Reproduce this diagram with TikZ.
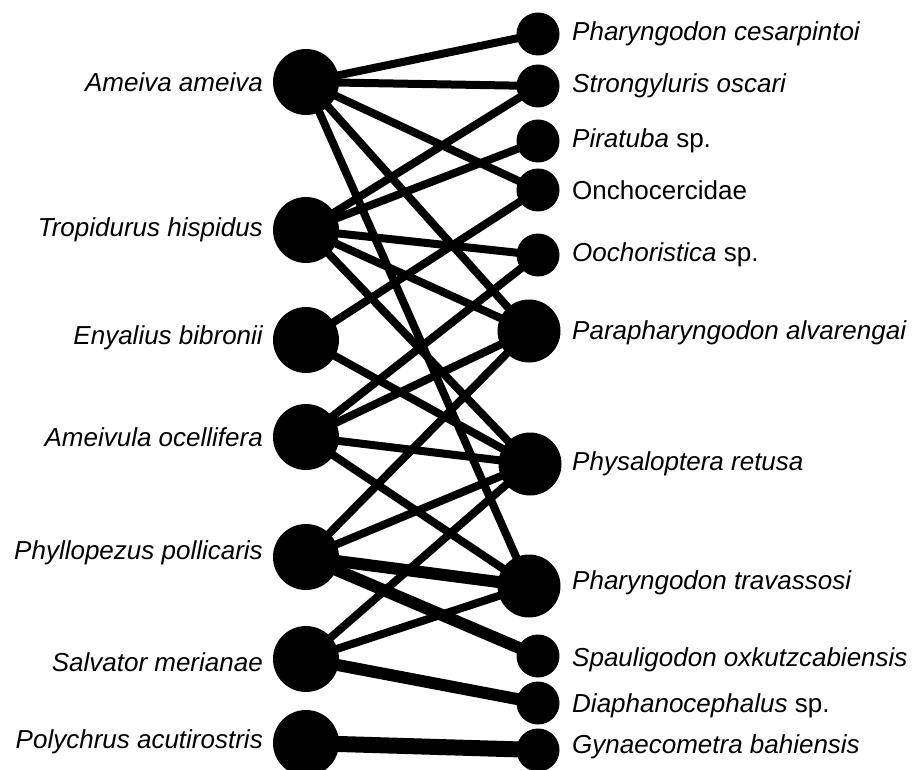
\documentclass[tikz,border=0pt]{standalone}
\usepackage{fontspec}
\setmainfont{Liberation Sans}
\pgfdeclarelayer{bg}
\pgfsetlayers{bg,main}
\begin{document}
\begin{tikzpicture}[x=1pt,y=-1pt,
  host/.style={circle,fill=black,minimum size=66pt,inner sep=0pt},
  para/.style={circle,fill=black,minimum size=43pt,inner sep=0pt},
  bigpara/.style={circle,fill=black,minimum size=63pt,inner sep=0pt},
  llab/.style={anchor=east,inner sep=0pt,font=\fontsize{26}{30}\selectfont\itshape},
  rlab/.style={anchor=west,inner sep=0pt,font=\fontsize{26}{30}\selectfont},
  link/.style={line width=8pt},
  linkb/.style={line width=12pt},
  linkc/.style={line width=16pt}]
\useasboundingbox (0,0) rectangle (915,770);
% hosts
\node[host] (aa) at (306,82) {};
\node[host] (th) at (306,230) {};
\node[host] (eb) at (306,340) {};
\node[host] (ao) at (306,437) {};
\node[host] (pp) at (306,557) {};
\node[host] (sm) at (306,659) {};
\node[host] (pa) at (306,743) {};
% parasites
\node[para] (pc) at (538,34) {};
\node[para] (so) at (538,86) {};
\node[para] (pi) at (538,141) {};
\node[para] (on) at (538,190) {};
\node[para] (oo) at (538,255) {};
\node[bigpara] (pv) at (529,331) {};
\node[bigpara] (pr) at (530,464) {};
\node[bigpara] (pt) at (529,586) {};
\node[para] (sp) at (538,656) {};
\node[para] (di) at (538,703) {};
\node[para] (gb) at (538,750) {};
% labels
\node[llab] (laa) at (263,82) {Ameiva ameiva};
\node[llab] (lth) at (263,230) {Tropidurus hispidus};
\node[llab] (leb) at (263,338) {Enyalius bibronii};
\node[llab] (lao) at (263,437) {Ameivula ocellifera};
\node[llab] (lpp) at (263,553) {Phyllopezus pollicaris};
\node[llab] (lsm) at (263,662) {Salvator merianae};
\node[llab] (lpa) at (263,742) {Polychrus acutirostris};
\node[rlab] (lpc) at (572,34) {\itshape Pharyngodon cesarpintoi};
\node[rlab] (lso) at (572,86) {\itshape Strongyluris oscari};
\node[rlab] (lpi) at (572,141) {\textit{Piratuba} sp.};
\node[rlab] (lon) at (572,190) {Onchocercidae};
\node[rlab] (loo) at (572,255) {\textit{Oochoristica} sp.};
\node[rlab] (lpv) at (572,333) {\itshape Parapharyngodon alvarengai};
\node[rlab] (lpr) at (572,464) {\itshape Physaloptera retusa};
\node[rlab] (lpt) at (572,583) {\itshape Pharyngodon travassosi};
\node[rlab] (lsp) at (572,660) {\itshape Spauligodon oxkutzcabiensis};
\node[rlab] (ldi) at (572,706) {\textit{Diaphanocephalus} sp.};
\node[rlab] (lgb) at (572,747) {\itshape Gynaecometra bahiensis};
% links
\begin{pgfonlayer}{bg}
\draw[link] (aa.center) -- (pc.center);
\draw[link] (aa.center) -- (so.center);
\draw[link] (aa.center) -- (on.center);
\draw[link] (aa.center) -- (pv.center);
\draw[link] (aa.center) -- (pt.center);
\draw[link] (th.center) -- (so.center);
\draw[link] (th.center) -- (pi.center);
\draw[link] (th.center) -- (oo.center);
\draw[link] (th.center) -- (pv.center);
\draw[link] (th.center) -- (pr.center);
\draw[link] (eb.center) -- (on.center);
\draw[link] (eb.center) -- (pr.center);
\draw[link] (ao.center) -- (oo.center);
\draw[link] (ao.center) -- (pv.center);
\draw[link] (ao.center) -- (pr.center);
\draw[link] (ao.center) -- (pt.center);
\draw[link] (pp.center) -- (pv.center);
\draw[link] (pp.center) -- (pr.center);
\draw[linkb] (pp.center) -- (pt.center);
\draw[linkb] (pp.center) -- (sp.center);
\draw[link] (sm.center) -- (pr.center);
\draw[link] (sm.center) -- (pt.center);
\draw[linkb] (sm.center) -- (di.center);
\draw[linkc] (pa.center) -- (gb.center);
\end{pgfonlayer}
\end{tikzpicture}
\end{document}
